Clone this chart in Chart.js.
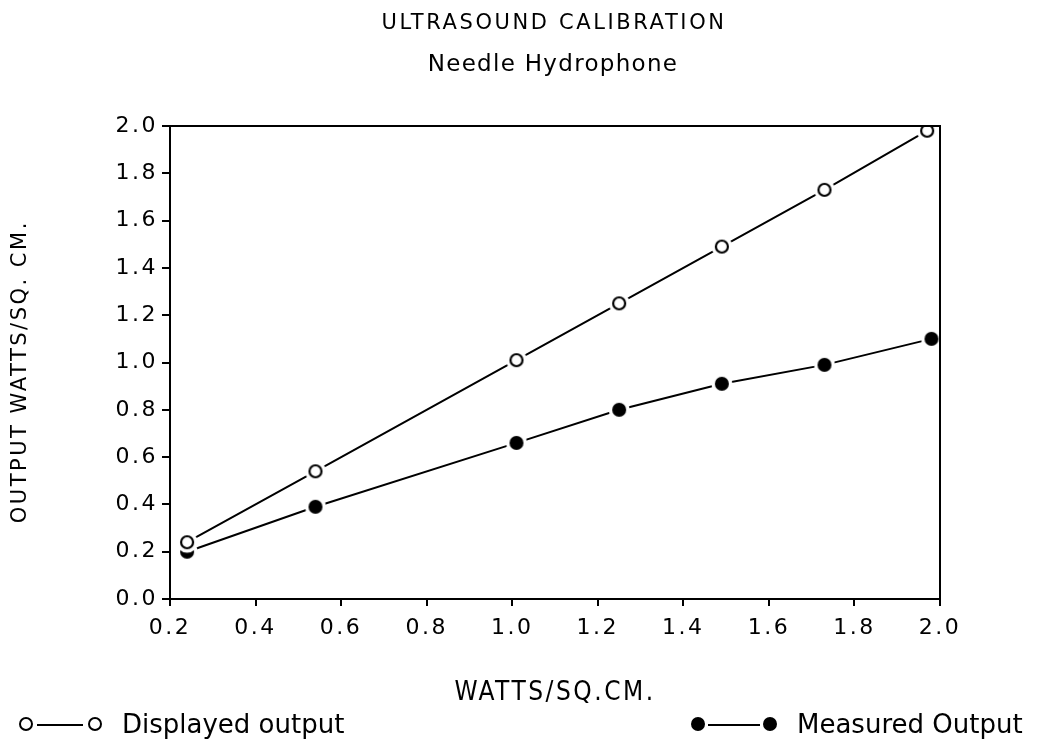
<!DOCTYPE html>
<html><head><meta charset="utf-8">
<script src="https://cdn.jsdelivr.net/npm/chart.js@4.4.1/dist/chart.umd.min.js"></script>
<style>
html,body{margin:0;padding:0;background:#fff;}
#wrap{position:relative;width:1037px;height:745px;font-family:"DejaVu Sans",sans-serif;color:#000;}
canvas{position:absolute;left:0;top:0;}
.t{position:absolute;white-space:nowrap;line-height:normal;}
.oc{position:absolute;width:10px;height:10px;border:2px solid #000;border-radius:50%;background:#fff;}
.fc{position:absolute;width:14px;height:14px;border-radius:50%;background:#000;}
.ln{position:absolute;height:2px;background:#000;}
</style></head>
<body><div id="wrap">
<canvas id="c" width="1037" height="745"></canvas>
<div class="t" style="left:554px;top:10px;transform:translateX(-50%);font-size:21px;letter-spacing:2.6px;">ULTRASOUND CALIBRATION</div>
<div class="t" style="left:553px;top:50px;transform:translateX(-50%);font-size:23px;letter-spacing:1.3px;">Needle Hydrophone</div>

<div class="oc" style="left:19px;top:717px;"></div>
<div class="ln" style="left:37px;top:724px;width:46px;"></div>
<div class="oc" style="left:88px;top:717px;"></div>
<div class="t" style="left:122px;top:709px;font-size:26px;">Displayed output</div>

<div class="fc" style="left:691px;top:717px;"></div>
<div class="ln" style="left:708px;top:724px;width:52px;"></div>
<div class="fc" style="left:763px;top:717px;"></div>
<div class="t" style="left:797px;top:709px;font-size:26px;">Measured Output</div>
</div>
<script>
const xDisplayed = [0.24, 0.54, 1.01, 1.25, 1.49, 1.73, 1.97];
const yDisplayed = [0.24, 0.54, 1.01, 1.25, 1.49, 1.73, 1.98];
const xMeasured  = [0.24, 0.54, 1.01, 1.25, 1.49, 1.73, 1.98];
const yMeasured  = [0.20, 0.39, 0.66, 0.80, 0.91, 0.99, 1.10];
const xTicks = [0.2, 0.4, 0.6, 0.8, 1.0, 1.2, 1.4, 1.6, 1.8, 2.0];
const yTicks = [0.0, 0.2, 0.4, 0.6, 0.8, 1.0, 1.2, 1.4, 1.6, 1.8, 2.0];

const toPts = (xs, ys) => xs.map((x, i) => ({x: x, y: ys[i]}));

function markerImage(filled) {
  const c = document.createElement('canvas');
  c.width = 24; c.height = 24;
  const g = c.getContext('2d');
  g.fillStyle = '#fff';
  g.beginPath(); g.arc(12, 12, 10.5, 0, Math.PI * 2); g.fill();
  if (filled) {
    g.fillStyle = '#000';
    g.beginPath(); g.arc(12, 12, 7, 0, Math.PI * 2); g.fill();
  } else {
    g.strokeStyle = '#000'; g.lineWidth = 2.2;
    g.beginPath(); g.arc(12, 12, 6, 0, Math.PI * 2); g.stroke();
  }
  return c;
}
const openMarker = markerImage(false);
const filledMarker = markerImage(true);

const tickFont = {family: '"DejaVu Sans", sans-serif', size: 22};

const spacingPlugin = {
  id: 'spacing',
  beforeUpdate(chart) { chart.ctx.letterSpacing = '2.5px'; },
  beforeDraw(chart) { chart.ctx.letterSpacing = '2.5px'; }
};
const boxPlugin = {
  id: 'box',
  afterDraw(chart) {
    const a = chart.chartArea, ctx = chart.ctx;
    ctx.save();
    ctx.strokeStyle = '#000'; ctx.lineWidth = 2;
    ctx.beginPath();
    ctx.moveTo(a.left, a.top); ctx.lineTo(a.right, a.top); ctx.lineTo(a.right, a.bottom);
    ctx.stroke();
    ctx.restore();
  }
};

new Chart(document.getElementById('c'), {
  type: 'scatter',
  data: {
    datasets: [
      {label: 'Displayed output', data: toPts(xDisplayed, yDisplayed), showLine: true,
       borderColor: '#000', borderWidth: 2, pointStyle: openMarker, pointRadius: 10},
      {label: 'Measured Output', data: toPts(xMeasured, yMeasured), showLine: true,
       borderColor: '#000', borderWidth: 2, pointStyle: filledMarker, pointRadius: 10}
    ]
  },
  options: {
    responsive: false, animation: false, devicePixelRatio: 1,
    layout: {padding: {left: 8, right: 97, top: 126, bottom: 36}},
    plugins: {legend: {display: false}, tooltip: {enabled: false}, title: {display: false}},
    scales: {
      x: {
        type: 'linear', min: 0.2, max: 2.0,
        afterBuildTicks: s => { s.ticks = xTicks.map(v => ({value: v})); },
        afterFit: s => { s.height = 110; },
        grid: {drawOnChartArea: false, drawTicks: true, tickLength: 7, color: '#000', lineWidth: 2},
        border: {display: true, color: '#000', width: 2},
        ticks: {color: '#000', font: tickFont, padding: 9, maxRotation: 0, callback: v => v.toFixed(1)},
        title: {display: true, text: 'WATTS/SQ.CM.', color: '#000',
                font: {family: '"Liberation Sans Narrow", "DejaVu Sans Condensed", sans-serif', size: 26},
                padding: {top: 0, bottom: 0}}
      },
      y: {
        type: 'linear', min: 0.0, max: 2.0,
        afterBuildTicks: s => { s.ticks = yTicks.map(v => ({value: v})); },
        afterFit: s => { s.width = 162; },
        grid: {drawOnChartArea: false, drawTicks: true, tickLength: 8, color: '#000', lineWidth: 2},
        border: {display: true, color: '#000', width: 2},
        ticks: {color: '#000', font: tickFont, padding: 4, callback: v => v.toFixed(1)},
        title: {display: true, text: 'OUTPUT WATTS/SQ. CM.  ', color: '#000',
                font: {family: '"DejaVu Sans", sans-serif', size: 21}, padding: {top: 0, bottom: 0}}
      }
    }
  },
  plugins: [spacingPlugin, boxPlugin]
});
</script>
</body></html>
